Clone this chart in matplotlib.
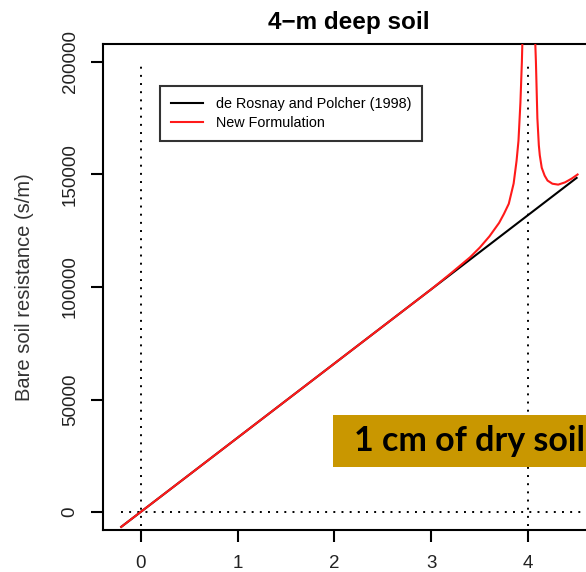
"""Bare soil resistance for a 4-m deep soil: old vs new formulation."""

import matplotlib

matplotlib.use("Agg")
import matplotlib.pyplot as plt
from matplotlib.patches import Rectangle

# --- data ---
BLACK_X = [-0.2, 4.5]
BLACK_Y = [-6600, 148500]

RED_LEFT_X = [-0.2, 0, 1, 2, 3, 3.2, 3.4, 3.5, 3.6, 3.7, 3.75, 3.8, 3.85,
              3.88, 3.9, 3.92, 3.935, 3.95]
RED_LEFT_Y = [-6600, 0, 33000, 66000, 99000, 106000, 113200, 117500, 122500,
              128500, 132500, 137000, 146000, 156000, 165000, 182000, 200000,
              225000]
RED_RIGHT_X = [4.06, 4.08, 4.095, 4.11, 4.12, 4.14, 4.17, 4.20, 4.25, 4.31,
               4.38, 4.45, 4.51]
RED_RIGHT_Y = [225000, 200000, 175000, 163000, 158500, 153000, 149500, 147300,
               145900, 145500, 146500, 148200, 150000]

X_TICKS = [0, 1, 2, 3, 4]
Y_TICKS = [0, 50000, 100000, 150000, 200000]

LEGEND_LABELS = ["de Rosnay and Polcher (1998)", "New Formulation"]
TITLE = "4\u2212m deep soil"
Y_LABEL = "Bare soil resistance (s/m)"
NOTE = "1 cm of dry soil"

# --- style ---
FONT = "Liberation Sans"
NOTE_COLOR = "#C99700"
DOTS = (0, (1, 3.2))

plt.rcParams["font.family"] = [FONT, "DejaVu Sans"]

fig = plt.figure(figsize=(5.86, 5.72), dpi=100)
ax = fig.add_axes([0.1758, 0.0734, 0.8396, 0.8497])
ax.set_xlim(-0.388, 4.69)
ax.set_ylim(-8000, 208000)

# reference lines
ax.plot([-0.2, 4.8], [0, 0], color="black", lw=1.4, linestyle=DOTS, zorder=1)
ax.plot([0, 0], [-6000, 198000], color="black", lw=1.4, linestyle=DOTS, zorder=1)
ax.plot([4, 4], [-6000, 198000], color="black", lw=1.4, linestyle=DOTS, zorder=1)

ax.plot(BLACK_X, BLACK_Y, color="black", lw=1.5, label=LEGEND_LABELS[0], zorder=2)
ax.plot(RED_LEFT_X, RED_LEFT_Y, color="#ff1a1a", lw=1.5, label=LEGEND_LABELS[1], zorder=3)
ax.plot(RED_RIGHT_X, RED_RIGHT_Y, color="#ff1a1a", lw=1.5, zorder=3)

ax.set_xticks(X_TICKS)
ax.set_xticklabels([str(t) for t in X_TICKS])
ax.set_yticks(Y_TICKS)
ax.set_yticklabels([str(t) for t in Y_TICKS], rotation=90, va="center")
ax.tick_params(axis="both", direction="out", length=8.5, width=1.5,
               labelsize=13.5, labelcolor="#222222", color="black")
ax.tick_params(axis="x", pad=9.5)
ax.tick_params(axis="y", pad=9)
for spine in ax.spines.values():
    spine.set_linewidth(1.5)

ax.set_ylabel(Y_LABEL, fontsize=14.5, color="#333333", labelpad=20)
ax.set_title(TITLE, fontsize=17.5, fontweight="bold", pad=11, x=0.5)

leg = ax.legend(
    loc="upper left",
    bbox_to_anchor=(0.116, 0.914),
    fontsize=10.4,
    frameon=True,
    fancybox=False,
    edgecolor="black",
    handlelength=2.2,
    handletextpad=0.9,
    borderpad=0.75,
    labelspacing=0.35,
    borderaxespad=0,
)
leg.get_frame().set_linewidth(1.5)

# highlighted note box, cropped at the right edge
fig.patches.append(Rectangle((0.568, 0.1836), 0.5, 0.0909, transform=fig.transFigure,
                             facecolor=NOTE_COLOR, edgecolor="none", zorder=5))
fig.text(0.604, 0.229, NOTE, fontsize=24.5, fontweight="bold", family=["Lato", "DejaVu Sans"],
         color="black", va="center", ha="left", zorder=6)

fig.savefig("out.png", dpi=100)
